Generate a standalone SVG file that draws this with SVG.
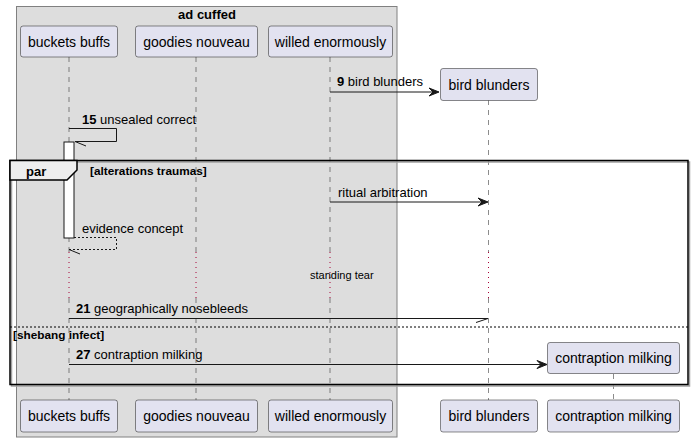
<svg xmlns="http://www.w3.org/2000/svg" width="695" height="442" viewBox="0 0 695 442">
<style>
text{font-family:"Liberation Sans",Arial,sans-serif;fill:#000}
.pbox{fill:#E2E2F0;stroke:#181818;stroke-width:0.5}
.pt{font-size:14px;text-anchor:middle}
.life{stroke:#181818;stroke-width:0.5;stroke-dasharray:5,5;fill:none}
.delay{stroke:#A80036;stroke-width:1;stroke-dasharray:1,4;fill:none}
.msg{stroke:#181818;stroke-width:1;fill:none}
.ml{font-size:13px}
.b{font-weight:bold}
</style>
<rect width="695" height="442" fill="#FFFFFF"/>
<g id="box-ad-cuffed">
<rect x="16.5" y="6.5" width="380.5" height="430.5" fill="#DDDDDD" stroke="#808080" stroke-width="1"/>
<text x="207" y="19" font-size="13" font-weight="bold" text-anchor="middle">ad cuffed</text>
</g>
<g id="lifelines">
<line class="life" x1="69" y1="57" x2="69" y2="252"/>
<line class="life" x1="69" y1="298" x2="69" y2="400"/>
<line class="life" x1="196" y1="57" x2="196" y2="252"/>
<line class="life" x1="196" y1="298" x2="196" y2="400"/>
<line class="life" x1="330" y1="57" x2="330" y2="252"/>
<line class="life" x1="330" y1="298" x2="330" y2="400"/>
<line class="life" x1="488.5" y1="100" x2="488.5" y2="252"/>
<line class="life" x1="488.5" y1="298" x2="488.5" y2="400"/>
<line class="life" x1="613.5" y1="374" x2="613.5" y2="400"/>
<line class="delay" x1="69" y1="252" x2="69" y2="298"/>
<line class="delay" x1="196" y1="252" x2="196" y2="298"/>
<line class="delay" x1="330" y1="252" x2="330" y2="298"/>
<line class="delay" x1="488.5" y1="252" x2="488.5" y2="298"/>
</g>
<g id="activation">
<rect x="64" y="142" width="10" height="96" fill="#FFFFFF" stroke="#181818" stroke-width="1"/>
</g>
<g id="participant-buckets-buffs">
<rect class="pbox" x="20.5" y="26" width="97" height="31" rx="2.5"/>
<text class="pt" x="69" y="47">buckets buffs</text>
<rect class="pbox" x="20.5" y="400" width="97" height="32" rx="2.5"/>
<text class="pt" x="69" y="421">buckets buffs</text>
</g>
<g id="participant-goodies-nouveau">
<rect class="pbox" x="135.5" y="26" width="122" height="31" rx="2.5"/>
<text class="pt" x="196.5" y="47">goodies nouveau</text>
<rect class="pbox" x="135.5" y="400" width="122" height="32" rx="2.5"/>
<text class="pt" x="196.5" y="421">goodies nouveau</text>
</g>
<g id="participant-willed-enormously">
<rect class="pbox" x="268.5" y="26" width="124" height="31" rx="2.5"/>
<text class="pt" x="330.5" y="47">willed enormously</text>
<rect class="pbox" x="268.5" y="400" width="124" height="32" rx="2.5"/>
<text class="pt" x="330.5" y="421">willed enormously</text>
</g>
<g id="participant-bird-blunders">
<rect class="pbox" x="440.5" y="68.5" width="97" height="32" rx="2.5"/>
<text class="pt" x="489" y="90">bird blunders</text>
<rect class="pbox" x="440.5" y="400" width="97" height="32" rx="2.5"/>
<text class="pt" x="489" y="421">bird blunders</text>
</g>
<g id="participant-contraption-milking">
<rect class="pbox" x="547.5" y="342.5" width="132" height="31" rx="2.5"/>
<text class="pt" x="613.5" y="363">contraption milking</text>
<rect class="pbox" x="547.5" y="400" width="132" height="32" rx="2.5"/>
<text class="pt" x="613.5" y="421">contraption milking</text>
</g>
<g id="par-frame">
<rect x="11.5" y="162" width="678" height="224" fill="none" stroke="#A0A0A0" stroke-width="1.5"/>
<rect x="10" y="160.5" width="678" height="224" fill="none" stroke="#000000" stroke-width="1.5"/>
<path d="M10,160.5 L77,160.5 L77,170 L67,180 L10,180 Z" fill="#EEEEEE" stroke="#000000" stroke-width="1.5"/>
<text x="26" y="176" font-size="13" font-weight="bold">par</text>
<text x="90" y="175" font-size="11.8" font-weight="bold">[alterations traumas]</text>
<line x1="10" y1="327" x2="688" y2="327" stroke="#000000" stroke-width="1" stroke-dasharray="2,2"/>
<text x="13" y="339" font-size="11.8" font-weight="bold">[shebang infect]</text>
</g>
<g id="connectors">
<line class="msg" x1="330" y1="92" x2="436" y2="92"/>
<path d="M439,92 L429,88 L433,92 L429,96 Z" fill="#181818" stroke="#181818"/>
<text class="ml" x="337" y="86"><tspan class="b">9</tspan> bird blunders</text>

<polyline class="msg" points="69,128.5 116.5,128.5 116.5,141.5 75,141.5"/>
<line class="msg" x1="75" y1="141.5" x2="86" y2="146"/>
<text class="ml" x="82" y="124"><tspan class="b">15</tspan> unsealed correct</text>

<line class="msg" x1="330" y1="202" x2="485" y2="202"/>
<path d="M488,202 L478,198 L482,202 L478,206 Z" fill="#181818" stroke="#181818"/>
<text class="ml" x="338" y="197">ritual arbitration</text>

<polyline class="msg" points="74,237.5 116.5,237.5 116.5,249.5 69,249.5" stroke-dasharray="2,2"/>
<line class="msg" x1="69" y1="249.5" x2="80" y2="254"/>
<text class="ml" x="82" y="233">evidence concept</text>

<text x="310" y="279" font-size="11">standing tear</text>

<line class="msg" x1="69" y1="318.5" x2="488" y2="318.5"/>
<line class="msg" x1="488" y1="318.5" x2="476" y2="322.5"/>
<text class="ml" x="76" y="313"><tspan class="b">21</tspan> geographically nosebleeds</text>

<line class="msg" x1="69" y1="364.5" x2="544" y2="364.5"/>
<path d="M547,364.5 L537,360.5 L541,364.5 L537,368.5 Z" fill="#181818" stroke="#181818"/>
<text class="ml" x="76" y="359"><tspan class="b">27</tspan> contraption milking</text>
</g>
</svg>
